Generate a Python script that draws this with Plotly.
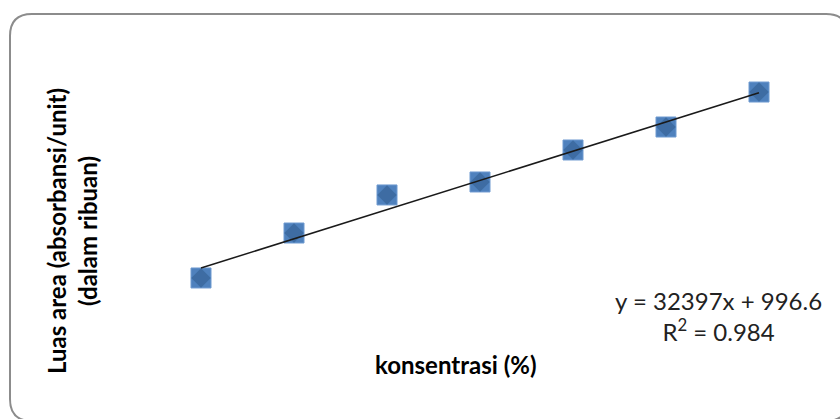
import plotly.graph_objects as go

# Data (concentration %, peak area in thousands)
konsentrasi = [0.01, 0.02, 0.03, 0.04, 0.05, 0.06, 0.07]
luas_area = [1210, 1709, 2131, 2275, 2630, 2885, 3273]
slope = 32397
intercept = 996.6
eq_text = "y = 32397x + 996.6"
r2_text = "R<sup>2</sup> = 0.984"
x_title = "konsentrasi (%)"
y_title = "Luas area (absorbansi/unit)<br>(dalam ribuan)"

W, H = 840, 419

trend_x = [konsentrasi[0], konsentrasi[-1]]
trend_y = [slope * x + intercept for x in trend_x]

fig = go.Figure()
fig.add_trace(go.Scatter(
    x=konsentrasi, y=luas_area, mode="markers",
    marker=dict(symbol="square", size=20, color="#4F81BD",
                line=dict(color="#6F9AD0", width=1)),
    hoverinfo="skip", showlegend=False))
fig.add_trace(go.Scatter(
    x=konsentrasi, y=luas_area, mode="markers",
    marker=dict(symbol="diamond", size=15, color="#3E6CA3",
                line=dict(width=0)),
    hoverinfo="skip", showlegend=False))
fig.add_trace(go.Scatter(
    x=trend_x, y=trend_y, mode="lines",
    line=dict(color="#1a1a1a", width=1.5),
    hoverinfo="skip", showlegend=False))

def px(x):
    return x / W

def py(y):
    return 1 - y / H

# rounded border box (pixel coords converted to paper)
x0, y0, x1, y1, rad = 10, 14, 848, 421, 22
path = (f"M {px(x0+rad)},{py(y0)} L {px(x1-rad)},{py(y0)} "
        f"Q {px(x1)},{py(y0)} {px(x1)},{py(y0+rad)} "
        f"L {px(x1)},{py(y1-rad)} Q {px(x1)},{py(y1)} {px(x1-rad)},{py(y1)} "
        f"L {px(x0+rad)},{py(y1)} Q {px(x0)},{py(y1)} {px(x0)},{py(y1-rad)} "
        f"L {px(x0)},{py(y0+rad)} Q {px(x0)},{py(y0)} {px(x0+rad)},{py(y0)} Z")

fig.update_layout(
    width=W, height=H,
    margin=dict(l=0, r=0, t=0, b=0),
    paper_bgcolor="white", plot_bgcolor="white",
    xaxis=dict(range=[-0.011613, 0.07871], visible=False, fixedrange=True),
    yaxis=dict(range=[-354.7, 4294.1], visible=False, fixedrange=True),
    shapes=[dict(type="path", xref="paper", yref="paper", path=path,
                 line=dict(color="#8c8c8c", width=2), layer="below")],
    annotations=[
        dict(text=y_title, xref="paper", yref="paper", x=px(72), y=py(231),
             xanchor="center", yanchor="middle",
             showarrow=False, textangle=-90,
             font=dict(family="Lato", size=24, color="black", weight="bold")),
        dict(text=x_title, xref="paper", yref="paper", x=px(456), y=py(364),
             xanchor="center", yanchor="middle", showarrow=False,
             font=dict(family="Lato", size=24, color="black", weight="bold")),
        dict(text=eq_text + "<br>" + r2_text, xref="paper", yref="paper",
             x=px(718), y=py(316), xanchor="center", yanchor="middle",
             showarrow=False,
             font=dict(family="Lato", size=24, color="#222222")),
    ],
)

fig.write_html("out.html", config={"displayModeBar": False},
               post_script="document.body.style.margin='0px';")
